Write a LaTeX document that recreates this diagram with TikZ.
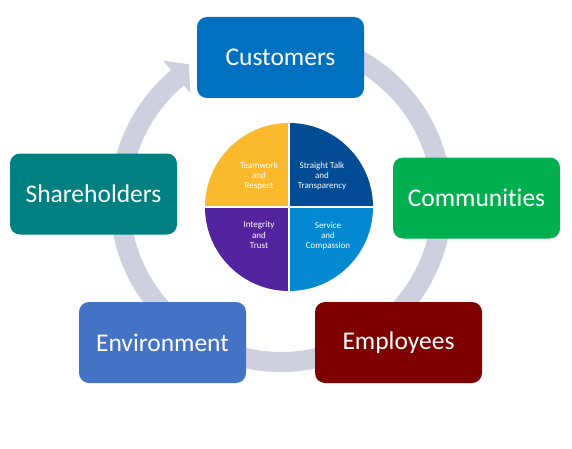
\documentclass[tikz,border=0pt]{standalone}
\usepackage{fontspec}
\setmainfont{Carlito}[Ligatures=NoCommon]
\definecolor{cCust}{HTML}{0070C0}
\definecolor{cComm}{HTML}{00B050}
\definecolor{cEmpl}{HTML}{7F0000}
\definecolor{cEnv}{HTML}{4472C4}
\definecolor{cShare}{HTML}{008080}
\definecolor{ringgray}{RGB}{206,208,223}
\definecolor{pOrange}{RGB}{251,185,46}
\definecolor{pDark}{RGB}{2,76,150}
\definecolor{pLight}{RGB}{2,137,209}
\definecolor{pPurple}{RGB}{84,35,160}
\begin{document}
\begin{tikzpicture}[x=1pt,y=1pt,
  box/.style={rounded corners=10pt, minimum width=167pt, minimum height=81pt,
    text=white, font=\fontsize{25.5}{30}\selectfont, inner sep=0pt},
  pietxt/.style={text=white, align=center, font=\fontsize{9}{10.2}\selectfont, inner sep=0pt}]
\useasboundingbox[fill=white] (0,0) rectangle (572,448);
% ring arrow
\begin{scope}[shift={(281,247)}]
\fill[ringgray] (100:171) arc[start angle=100, end angle=-230, radius=171]
  -- (130:183) -- (124:165) -- (130:141) -- (130:151)
  arc[start angle=-230, end angle=100, radius=151] -- cycle;
\end{scope}
% pie
\begin{scope}[shift={(289,241)}]
\fill[pOrange] (0,0) -- (90:84) arc[start angle=90, end angle=180, radius=84] -- cycle;
\fill[pDark] (0,0) -- (0:84) arc[start angle=0, end angle=90, radius=84] -- cycle;
\fill[pLight] (0,0) -- (270:84) arc[start angle=270, end angle=360, radius=84] -- cycle;
\fill[pPurple] (0,0) -- (180:84) arc[start angle=180, end angle=270, radius=84] -- cycle;
\draw[white, line width=1.6pt] (0,-85) -- (0,85) (-85,0) -- (85,0);
\end{scope}
\node[pietxt] (tr) at (259,272) {Teamwork\\and\\Respect};
\node[pietxt] (st) at (322,272) {Straight Talk\\and\\Transparency};
\node[pietxt] (it) at (259,213) {Integrity\\and\\Trust};
\node[pietxt] (sc) at (328,212) {Service\\and\\Compassion};
% boxes
\node[box, fill=cCust] (cust) at (280.5,390.5) {Customers};
\node[box, fill=cComm] (comm) at (476.5,250) {Communities};
\node[box, fill=cEmpl] (empl) at (398.5,105.5) {Employees};
\node[box, fill=cEnv] (env) at (162.5,105.5) {Environment};
\node[box, fill=cShare] (share) at (93.5,254) {Shareholders};
\end{tikzpicture}
\end{document}
